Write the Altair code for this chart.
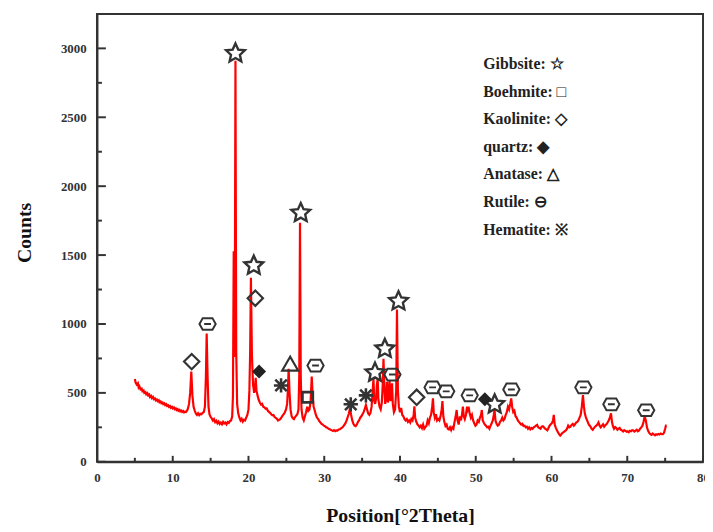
import altair as alt
import pandas as pd

# ---- XRD pattern ----
two_theta = [
    5.0, 5.1, 5.25, 5.4, 5.5, 5.6, 5.75, 5.9, 6.0, 6.15, 6.25, 6.4, 6.5, 6.65, 6.75, 6.9,
    7.0, 7.15, 7.25, 7.4, 7.5, 7.65, 7.75, 7.9, 8.0, 8.15, 8.25, 8.4, 8.5, 8.65, 8.75, 8.9,
    9.0, 9.15, 9.25, 9.4, 9.5, 9.65, 9.75, 9.9, 10.0, 10.15, 10.25, 10.4, 10.5, 10.65, 10.75, 10.9,
    11.0, 11.15, 11.25, 11.4, 11.5, 11.65, 11.75, 11.9, 12.0, 12.15, 12.3, 12.45, 12.6, 12.75, 12.9,
    13.05, 13.2, 13.35, 13.5, 13.65, 13.8, 13.95, 14.1, 14.25, 14.38, 14.48, 14.6, 14.72, 14.85,
    15.0, 15.15, 15.3, 15.45, 15.6, 15.75, 15.9, 16.05, 16.2, 16.35, 16.5, 16.65, 16.8, 16.95,
    17.1, 17.25, 17.4, 17.55, 17.7, 17.85, 17.95, 18.05, 18.12, 18.18, 18.28, 18.38, 18.5, 18.65,
    18.8, 18.95, 19.1, 19.25, 19.4, 19.55, 19.7, 19.85, 20.0, 20.12, 20.22, 20.32, 20.45, 20.6,
    20.75, 20.85, 20.95, 21.05, 21.2, 21.35, 21.5, 21.65, 21.8, 21.95, 22.1, 22.25, 22.4, 22.55,
    22.7, 22.85, 23.0, 23.15, 23.3, 23.45, 23.6, 23.75, 23.9, 24.05, 24.2, 24.35, 24.5, 24.65,
    24.8, 24.95, 25.1, 25.2, 25.3, 25.42, 25.55, 25.7, 25.85, 26.0, 26.15, 26.3, 26.45, 26.6,
    26.7, 26.8, 26.9, 27.0, 27.15, 27.3, 27.45, 27.6, 27.75, 27.9, 28.05, 28.2, 28.35, 28.48,
    28.6, 28.75, 28.9, 29.05, 29.2, 29.35, 29.5, 29.65, 29.8, 29.95, 30.1, 30.25, 30.4, 30.55,
    30.7, 30.85, 31.0, 31.15, 31.3, 31.45, 31.6, 31.75, 31.9, 32.05, 32.2, 32.35, 32.5, 32.65,
    32.8, 32.95, 33.1, 33.25, 33.4, 33.55, 33.7, 33.85, 34.0, 34.15, 34.3, 34.45, 34.6, 34.75,
    34.9, 35.05, 35.2, 35.35, 35.5, 35.65, 35.8, 35.95, 36.1, 36.25, 36.4, 36.5, 36.6, 36.72,
    36.85, 36.95, 37.05, 37.15, 37.3, 37.45, 37.6, 37.72, 37.82, 37.95, 38.05, 38.15, 38.28, 38.4,
    38.5, 38.62, 38.75, 38.85, 38.95, 39.05, 39.2, 39.35, 39.5, 39.6, 39.72, 39.85, 40.0, 40.15,
    40.3, 40.45, 40.6, 40.75, 40.9, 41.05, 41.2, 41.35, 41.5, 41.65, 41.8, 41.9, 42.0, 42.15,
    42.3, 42.45, 42.6, 42.75, 42.9, 43.05, 43.2, 43.35, 43.5, 43.65, 43.8, 43.95, 44.1, 44.25,
    44.35, 44.45, 44.6, 44.75, 44.9, 45.05, 45.2, 45.35, 45.5, 45.6, 45.72, 45.85, 46.0, 46.15,
    46.3, 46.45, 46.6, 46.75, 46.9, 47.05, 47.2, 47.35, 47.48, 47.6, 47.75, 47.9, 48.05, 48.2,
    48.3, 48.42, 48.55, 48.7, 48.85, 48.95, 49.05, 49.2, 49.35, 49.5, 49.65, 49.8, 49.95, 50.1,
    50.25, 50.4, 50.55, 50.7, 50.8, 50.92, 51.05, 51.2, 51.35, 51.5, 51.65, 51.8, 51.95, 52.1,
    52.25, 52.38, 52.48, 52.6, 52.75, 52.9, 53.05, 53.2, 53.35, 53.5, 53.65, 53.8, 53.95, 54.1,
    54.25, 54.4, 54.55, 54.68, 54.8, 54.95, 55.1, 55.25, 55.4, 55.55, 55.7, 55.85, 56.0, 56.15,
    56.3, 56.45, 56.6, 56.75, 56.9, 57.05, 57.2, 57.35, 57.5, 57.65, 57.8, 57.95, 58.1, 58.25,
    58.4, 58.55, 58.7, 58.85, 59.0, 59.15, 59.3, 59.45, 59.6, 59.75, 59.9, 60.05, 60.2, 60.3,
    60.42, 60.55, 60.7, 60.85, 61.0, 61.15, 61.3, 61.45, 61.6, 61.75, 61.9, 62.05, 62.2, 62.35,
    62.5, 62.65, 62.8, 62.95, 63.1, 63.25, 63.4, 63.55, 63.7, 63.85, 64.0, 64.15, 64.28, 64.4,
    64.55, 64.7, 64.85, 65.0, 65.15, 65.3, 65.45, 65.6, 65.75, 65.9, 66.05, 66.2, 66.35, 66.5,
    66.65, 66.8, 66.95, 67.1, 67.25, 67.4, 67.55, 67.7, 67.85, 67.98, 68.1, 68.25, 68.4, 68.55,
    68.7, 68.85, 69.0, 69.15, 69.3, 69.45, 69.6, 69.75, 69.9, 70.05, 70.2, 70.35, 70.5, 70.65,
    70.8, 70.95, 71.1, 71.25, 71.4, 71.55, 71.7, 71.85, 72.0, 72.15, 72.3, 72.45, 72.6, 72.75,
    72.9, 73.05, 73.2, 73.35, 73.5, 73.65, 73.8, 73.95, 74.1, 74.25, 74.4, 74.55, 74.7, 74.85,
    75.0, 75.1, 75.2,
]
counts = [
    600, 575, 560, 570, 540, 548, 525, 530, 512, 518, 500, 505, 490, 498, 482, 488,
    470, 478, 462, 470, 455, 460, 446, 452, 440, 446, 432, 438, 425, 430, 418, 424,
    412, 418, 405, 410, 398, 404, 392, 398, 388, 394, 382, 388, 376, 382, 370, 376,
    366, 372, 362, 368, 358, 364, 362, 372, 385, 420, 500, 655, 480, 400, 372,
    350, 340, 352, 338, 348, 345, 355, 360, 400, 620, 930, 620, 400, 345,
    325, 315, 300, 310, 288, 298, 280, 292, 275, 285, 272, 290, 278, 284,
    272, 288, 282, 295, 300, 330, 480, 1520, 1520, 760, 2910, 800, 420, 350,
    320, 300, 312, 292, 305, 300, 320, 340, 380, 520, 800, 1335, 780, 560,
    500, 540, 610, 520, 480, 450, 430, 415, 420, 400, 395, 385, 388, 370,
    362, 355, 345, 338, 340, 325, 318, 312, 300, 305, 310, 322, 335, 345,
    360, 380, 420, 520, 675, 500, 380, 330, 316, 310, 325, 335, 345, 380,
    620, 1735, 620, 380, 320, 300, 330, 360, 400, 370, 380, 440, 618, 470,
    400, 370, 340, 320, 310, 295, 285, 275, 270, 262, 258, 250, 248, 240,
    236, 232, 228, 224, 230, 222, 228, 226, 234, 236, 242, 248, 255, 268,
    280, 300, 325, 350, 388, 340, 300, 275, 262, 258, 270, 290, 300, 320,
    330, 345, 360, 385, 412, 380, 350, 340, 355, 400, 520, 604, 440, 420,
    460, 560, 600, 450, 400, 380, 430, 560, 748, 520, 420, 460, 580, 430,
    470, 590, 440, 500, 570, 420, 360, 380, 520, 1105, 520, 400, 360, 390,
    340, 330, 310, 300, 310, 290, 300, 285, 310, 300, 340, 402, 320, 290,
    272, 262, 250, 262, 245, 270, 240, 252, 262, 300, 280, 320, 340, 400,
    460, 360, 320, 345, 300, 310, 300, 330, 380, 440, 330, 290, 260, 270,
    240, 235, 250, 230, 250, 240, 290, 330, 376, 300, 270, 330, 300, 350,
    400, 330, 310, 340, 400, 380, 400, 350, 320, 340, 300, 280, 262, 270,
    300, 290, 320, 340, 376, 300, 285, 270, 262, 250, 255, 240, 262, 280,
    300, 340, 376, 300, 275, 262, 268, 290, 300, 320, 300, 310, 340, 360,
    400, 380, 420, 460, 400, 360, 370, 330, 320, 300, 290, 280, 270, 275,
    260, 262, 250, 255, 240, 250, 235, 245, 240, 250, 255, 262, 268, 250,
    245, 240, 255, 258, 250, 240, 235, 228, 245, 262, 272, 280, 300, 340,
    270, 250, 230, 215, 200, 190, 200, 210, 215, 222, 228, 240, 262, 250,
    255, 268, 275, 262, 272, 285, 290, 300, 320, 340, 400, 484, 400, 350,
    320, 300, 280, 265, 255, 240, 232, 245, 255, 262, 270, 285, 262, 250,
    262, 272, 255, 265, 272, 285, 300, 320, 352, 290, 260, 240, 252, 245,
    232, 240, 245, 232, 228, 220, 230, 225, 218, 222, 215, 225, 222, 230,
    228, 220, 226, 232, 222, 228, 240, 250, 262, 290, 330, 300, 250, 225,
    210, 200, 195, 205, 198, 192, 200, 196, 202, 198, 205, 200, 200, 210,
    240, 262, 262,
]

# ---- phase markers ----
gibbsite_x = [18.28, 20.7, 26.9, 36.7, 38.0, 39.8, 52.5]
gibbsite_y = [2964, 1424, 1806, 647, 820, 1165, 417]
boehmite_x = [27.8]
boehmite_y = [468]
kaolinite_x = [12.5, 20.9, 42.2]
kaolinite_y = [727, 1187, 468]
quartz_x = [21.4, 51.2]
quartz_y = [655, 453]
anatase_x = [25.5]
anatase_y = [712]
rutile_x = [14.6, 28.85, 39.0, 44.3, 46.1, 49.2, 54.7, 64.2, 67.9, 72.5]
rutile_y = [1000, 698, 633, 540, 511, 482, 525, 540, 417, 374]
hematite_x = [24.3, 33.5, 35.5]
hematite_y = [554, 417, 482]

legend_labels = ["Gibbsite: ☆", "Boehmite: □", "Kaolinite: ◇", "quartz: ◆",
                 "Anatase: △", "Rutile: ⊖", "Hematite: ※"]

x_major = [0, 10, 20, 30, 40, 50, 60, 70, 80]
x_minor = [5, 15, 25, 35, 45, 55, 65, 75]
y_major = [0, 500, 1000, 1500, 2000, 2500, 3000]
y_minor = [250, 750, 1250, 1750, 2250, 2750]

STAR = ("M0,-1L0.28,-0.38L0.95,-0.31L0.45,0.15L0.59,0.81L0,0.48"
        "L-0.59,0.81L-0.45,0.15L-0.95,-0.31L-0.28,-0.38Z")
HEXMINUS = "M-1,0L-0.6,-0.72L0.6,-0.72L1,0L0.6,0.72L-0.6,0.72Z M-0.42,0L0.42,0"
ASTER = "M-0.8,-0.8L0.8,0.8M-0.8,0.8L0.8,-0.8M-1,0L1,0M0,-1L0,1"

XS = alt.Scale(domain=[0, 80], nice=False, zero=False)
YS = alt.Scale(domain=[0, 3250], nice=False, zero=False)
FONT = "Liberation Serif"
DARK = "#333333"
XTITLE = "Position[°2Theta]"
YTITLE = "Counts"

X_AXIS = alt.Axis(
    values=x_major, format="d", ticks=False, grid=False,
    labelFont=FONT, labelFontWeight="bold", labelFontSize=13, labelColor=DARK,
    labelPadding=10, domainColor=DARK, domainWidth=2, labelFlush=False,
    title=XTITLE, titleFont=FONT, titleFontSize=20,
    titleFontWeight="bold", titleColor="#111111", titleY=60,
    titleBaseline="alphabetic")
Y_AXIS = alt.Axis(
    values=y_major, format="d", ticks=False, grid=False,
    labelFont=FONT, labelFontWeight="bold", labelFontSize=13, labelColor=DARK,
    labelPadding=11, domainColor=DARK, domainWidth=2,
    title=YTITLE, titleFont=FONT, titleFontSize=20, titleFontWeight="bold",
    titleColor="#111111", titleX=-73, titleY=221, titleBaseline="middle",
    titleAlign="center")


def X(field):
    return alt.X(field, scale=XS, axis=X_AXIS, title=XTITLE)


def Y(field):
    return alt.Y(field, scale=YS, axis=Y_AXIS, title=YTITLE)


df = pd.DataFrame({"x": two_theta, "y": counts})

line = alt.Chart(df).mark_line(color="#ff0000", strokeWidth=2.2).encode(
    x=X("x:Q"), y=Y("y:Q"))


def markers(xs, ys, shape, size, filled=False, sw=2.0):
    d = pd.DataFrame({"x": xs, "y": ys})
    return alt.Chart(d).mark_point(
        shape=shape, size=size, filled=filled, color="#222222" if filled else DARK,
        strokeWidth=sw, opacity=1,
    ).encode(x=X("x:Q"), y=Y("y:Q"))


layers = [
    line,
    markers(gibbsite_x, gibbsite_y, STAR, 400, sw=2.4),
    markers(boehmite_x, boehmite_y, "square", 110, sw=2.8),
    markers(kaolinite_x, kaolinite_y, "diamond", 240, sw=2.2),
    markers(quartz_x, quartz_y, "diamond", 200, filled=True),
    markers(anatase_x, anatase_y, "triangle-up", 260, sw=2.2),
    markers(rutile_x, rutile_y, HEXMINUS, 270, sw=2.0),
    markers(hematite_x, hematite_y, ASTER, 210, sw=2.6),
]


# inward axis ticks
def xticks(vals, length):
    d = pd.DataFrame({"x": vals})
    return alt.Chart(d).mark_rule(color=DARK, strokeWidth=2).encode(
        x=X("x:Q"), y=alt.value(453), y2=alt.value(453 - length))


def yticks(vals, length):
    d = pd.DataFrame({"y": vals})
    return alt.Chart(d).mark_rule(color=DARK, strokeWidth=2).encode(
        y=Y("y:Q"), x=alt.value(0), x2=alt.value(length))


layers += [xticks(x_major, 6), xticks(x_minor, 4), yticks(y_major, 9), yticks(y_minor, 5)]

leg = pd.DataFrame({
    "label": legend_labels,
    "x": [51.0] * len(legend_labels),
    "y": [2885 - 200 * i for i in range(len(legend_labels))],
})
legend_text = alt.Chart(leg).mark_text(
    align="left", baseline="middle", font=FONT, fontWeight="bold", fontSize=16,
    color="#222222",
).encode(x=X("x:Q"), y=Y("y:Q"), text="label:N")
layers.append(legend_text)

chart = alt.layer(*layers).properties(
    width=613, height=453,
    autosize=alt.AutoSizeParams(type="none"),
    padding={"left": 90, "top": 3, "right": 2, "bottom": 66},
    background="white",
).configure_view(stroke=DARK, strokeWidth=2)

chart.save("out.html", embed_options={"renderer": "svg", "actions": False})
